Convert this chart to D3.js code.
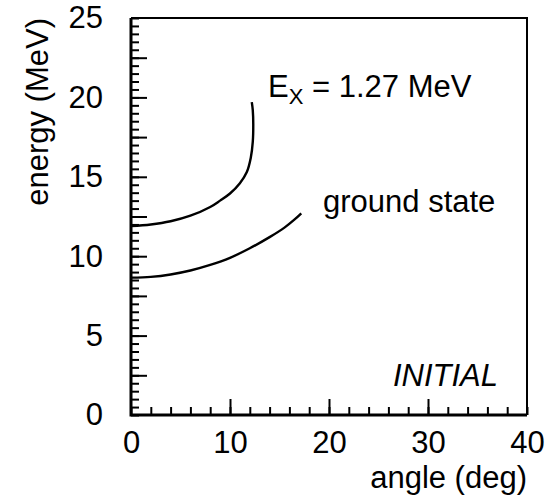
<!DOCTYPE html>
<html>
<head>
<meta charset="utf-8">
<script src="https://cdn.jsdelivr.net/npm/d3@7"></script>
<style>
  body { margin: 0; background: #fff; }
  text { font-family: "Liberation Sans", Arial, sans-serif; fill: #000; }
</style>
</head>
<body>
<svg id="chart" width="545" height="503"></svg>
<script>
// curves: [angle (deg), energy (MeV)]
const groundState = [
  [0, 8.65], [2, 8.7], [4, 8.85], [6, 9.1], [8, 9.45], [10, 9.9],
  [12, 10.5], [14, 11.2], [15.5, 11.8], [16.5, 12.3], [17.2, 12.7]
];
const excited = [
  [0, 11.9], [2, 12.0], [4, 12.2], [6, 12.55], [8, 13.1], [9, 13.5],
  [10, 13.95], [11, 14.6], [11.7, 15.3], [12.1, 16.2], [12.3, 17.2],
  [12.35, 18.3], [12.3, 19.2], [12.2, 19.7]
];
const xTickLabels = [0, 10, 20, 30, 40];
const yTickLabels = [0, 5, 10, 15, 20, 25];
const xMinor = d3.range(0, 40.01, 2);
const yMinor = d3.range(0, 25.01, 0.5);
const xMajor = [10, 20, 30];
const yMajor = d3.range(2.5, 25, 2.5);

const margin = { left: 131, top: 18, right: 18, bottom: 88 };
const width = 545, height = 503;
const svg = d3.select("#chart");

const x = d3.scaleLinear().domain([0, 40]).range([margin.left, width - margin.right]);
const y = d3.scaleLinear().domain([0, 25]).range([height - margin.bottom, margin.top]);

const fs = 31;

function clean(g) {
  g.select(".domain").remove();
  g.selectAll("line").attr("stroke", "#000").attr("stroke-width", 2);
}

// y ticks (inside)
svg.append("g").attr("transform", `translate(${x(0)},0)`)
  .call(d3.axisLeft(y).tickValues(yMinor).tickSize(-8).tickFormat(""))
  .call(clean);
svg.append("g").attr("transform", `translate(${x(0)},0)`)
  .call(d3.axisLeft(y).tickValues(yMajor).tickSize(-16).tickFormat(""))
  .call(clean);
svg.append("g").attr("transform", `translate(${x(0)},0)`)
  .call(d3.axisLeft(y).tickValues(yTickLabels).tickSize(0).tickPadding(28))
  .call(clean)
  .selectAll("text").style("font-size", fs + "px").attr("font-family", null);

// x ticks (inside)
svg.append("g").attr("transform", `translate(0,${y(0)})`)
  .call(d3.axisBottom(x).tickValues(xMinor).tickSize(-8).tickFormat(""))
  .call(clean);
svg.append("g").attr("transform", `translate(0,${y(0)})`)
  .call(d3.axisBottom(x).tickValues(xMajor).tickSize(-16).tickFormat(""))
  .call(clean);
svg.append("g").attr("transform", `translate(0,${y(0)})`)
  .call(d3.axisBottom(x).tickValues(xTickLabels).tickSize(0).tickPadding(16))
  .call(clean)
  .selectAll("text").style("font-size", fs + "px").attr("font-family", null);

// frame
svg.append("path")
  .attr("d", `M${x(0)},${y(25)}H${x(40)}V${y(0)}`)
  .attr("fill", "none").attr("stroke", "#000").attr("stroke-width", 2);
svg.append("path")
  .attr("d", `M${x(0)},${y(25)}V${y(0)}H${x(40)}`)
  .attr("fill", "none").attr("stroke", "#000").attr("stroke-width", 3);

// curves
const line = d3.line()
  .x(d => x(d[0]))
  .y(d => y(d[1]))
  .curve(d3.curveCatmullRom);

svg.selectAll(".curve")
  .data([groundState, excited])
  .join("path")
  .attr("class", "curve")
  .attr("d", line)
  .attr("fill", "none")
  .attr("stroke", "#000")
  .attr("stroke-width", 2.4);

// labels
svg.append("text")
  .attr("x", x(40)).attr("y", 488)
  .attr("text-anchor", "end")
  .style("font-size", fs + "px")
  .text("angle (deg)");

svg.append("text")
  .attr("transform", `translate(48,${y(25)}) rotate(-90)`)
  .attr("text-anchor", "end")
  .style("font-size", fs + "px")
  .text("energy (MeV)");

const ex = svg.append("text")
  .attr("x", 268).attr("y", 97)
  .style("font-size", fs + "px");
ex.append("tspan").text("E");
ex.append("tspan").attr("dy", 7).style("font-size", "22px").text("X");
ex.append("tspan").attr("dy", -7).text(" = 1.27 MeV");

svg.append("text")
  .attr("x", 323).attr("y", 212)
  .style("font-size", fs + "px")
  .text("ground state");

svg.append("text")
  .attr("x", 498).attr("y", 386)
  .attr("text-anchor", "end")
  .style("font-size", fs + "px")
  .style("font-style", "italic")
  .text("INITIAL");
</script>
</body>
</html>
